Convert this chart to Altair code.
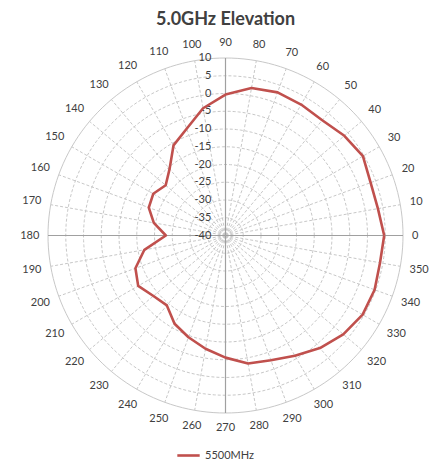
import altair as alt
import pandas as pd

TITLE = "5.0GHz Elevation"
SERIES = "5500MHz"
ANGLES = list(range(0, 360, 10))
GAIN_DB = [4.7, 3.6, 3.5, 4.7, 3.7, 2.4, 2.6, 2.9, 2.2, -0.3,
           -3.6, -8.0, -10.7, -15.5, -18.0, -16.5, -17.0, -19.5, -23.2, -16.8,
           -13.0, -11.6, -13.5, -14.3, -11.3, -9.5, -7.6, -5.6, -3.4, -2.6,
           -0.9, 1.4, 3.3, 4.6, 4.7, 4.2]
RING_VALUES = [-35, -30, -25, -20, -15, -10, -5, 0, 5, 10]
AXIS_LABELS = [10, 5, 0, -5, -10, -15, -20, -25, -30, -35, -40]
R_MIN, R_MAX = -40, 10
SPAN = R_MAX - R_MIN

FONT = "Lato"
RED = "#c0504d"
GRID = "#c8c8c8"

xs = alt.Scale(domain=[-SPAN, SPAN], nice=False, zero=False)
ys = alt.Scale(domain=[-SPAN, SPAN], nice=False, zero=False)

# series data (closed loop)
series_df = pd.DataFrame({
    "angle": ANGLES + [360],
    "gain": GAIN_DB + [GAIN_DB[0]],
    "series": SERIES,
})

# rings
ring_df = pd.DataFrame({"ring": RING_VALUES}).merge(
    pd.DataFrame({"t": list(range(0, 361, 2))}), how="cross")

spoke_df = pd.DataFrame({"angle": ANGLES})
label_df = pd.DataFrame({"angle": ANGLES, "label": [str(a) for a in ANGLES]})
val_df = pd.DataFrame({"v": AXIS_LABELS})

rings = alt.Chart(ring_df).transform_filter("datum.ring < %d" % R_MAX).transform_calculate(
    r=f"datum.ring - ({R_MIN})",
    x="datum.r * cos(datum.t * PI / 180)",
    y="datum.r * sin(datum.t * PI / 180)",
).mark_line(strokeWidth=1, color=GRID, strokeDash=[3, 2]).encode(
    x=alt.X("x:Q", scale=xs, axis=None),
    y=alt.Y("y:Q", scale=ys, axis=None),
    detail="ring:N",
    order="t:Q",
)

outer = alt.Chart(ring_df).transform_filter(f"datum.ring == {R_MAX}").transform_calculate(
    r=f"datum.ring - ({R_MIN})",
    x="datum.r * cos(datum.t * PI / 180)",
    y="datum.r * sin(datum.t * PI / 180)",
).mark_line(strokeWidth=1, color=GRID).encode(
    x=alt.X("x:Q", scale=xs, axis=None),
    y=alt.Y("y:Q", scale=ys, axis=None),
    detail="ring:N",
    order="t:Q",
)

spokes = alt.Chart(spoke_df).transform_filter("datum.angle % 90 != 0").transform_calculate(
    x0="0", y0="0",
    x2=f"{SPAN} * cos(datum.angle * PI / 180)",
    y2=f"{SPAN} * sin(datum.angle * PI / 180)",
).mark_rule(strokeWidth=1, color=GRID, strokeDash=[3, 2]).encode(
    x=alt.X("x0:Q", scale=xs, axis=None),
    y=alt.Y("y0:Q", scale=ys, axis=None),
    x2="x2:Q", y2="y2:Q",
)

axes = alt.Chart(spoke_df).transform_filter("datum.angle % 90 == 0").transform_calculate(
    x0="0", y0="0",
    x2=f"{SPAN} * cos(datum.angle * PI / 180)",
    y2=f"{SPAN} * sin(datum.angle * PI / 180)",
).mark_rule(strokeWidth=1.2, color="#a0a0a0").encode(
    x=alt.X("x0:Q", scale=xs, axis=None),
    y=alt.Y("y0:Q", scale=ys, axis=None),
    x2="x2:Q", y2="y2:Q",
)

angle_labels = alt.Chart(label_df).transform_calculate(
    rl=f"{SPAN} + 2.6 + abs(cos(datum.angle * PI / 180)) * 0.85 * length(datum.label) + abs(sin(datum.angle * PI / 180)) * 1.5",
    x="datum.rl * cos(datum.angle * PI / 180)",
    y="datum.rl * sin(datum.angle * PI / 180)",
).mark_text(font=FONT, fontSize=11, color="#404040", align="center", baseline="middle").encode(
    x=alt.X("x:Q", scale=xs, axis=None),
    y=alt.Y("y:Q", scale=ys, axis=None),
    text="label:N",
)

value_labels = alt.Chart(val_df).transform_calculate(
    x="-4",
    y=f"datum.v - ({R_MIN})",
).mark_text(font=FONT, fontSize=11, color="#404040", align="right", baseline="middle").encode(
    x=alt.X("x:Q", scale=xs, axis=None),
    y=alt.Y("y:Q", scale=ys, axis=None),
    text="v:N",
)

line = alt.Chart(series_df).transform_calculate(
    r=f"max(0, datum.gain - ({R_MIN}))",
    x="datum.r * cos(datum.angle * PI / 180)",
    y="datum.r * sin(datum.angle * PI / 180)",
).mark_line(strokeWidth=2.6, strokeJoin="round").encode(
    x=alt.X("x:Q", scale=xs, axis=None),
    y=alt.Y("y:Q", scale=ys, axis=None),
    order="angle:Q",
    color=alt.Color("series:N", scale=alt.Scale(domain=[SERIES], range=[RED]),
                    legend=alt.Legend(title=None, orient="none", legendX=128, legendY=385,
                                      symbolType="stroke", symbolStrokeWidth=2.6,
                                      symbolSize=500, labelFont=FONT, labelFontSize=11,
                                      labelColor="#404040")),
)

chart = alt.layer(rings, outer, spokes, axes, value_labels, angle_labels, line).properties(
    width=355, height=355,
    title=alt.Title(TITLE, font=FONT, fontSize=18, fontWeight="bold", color="#404040",
                    anchor="middle", offset=8),
    autosize=alt.AutoSizeParams(type="none"),
    padding={"left": 40, "top": 50, "right": 37, "bottom": 49},
    background="white",
).configure_view(stroke=None)

chart.save("out.html", embed_options={"renderer": "svg", "actions": False})
